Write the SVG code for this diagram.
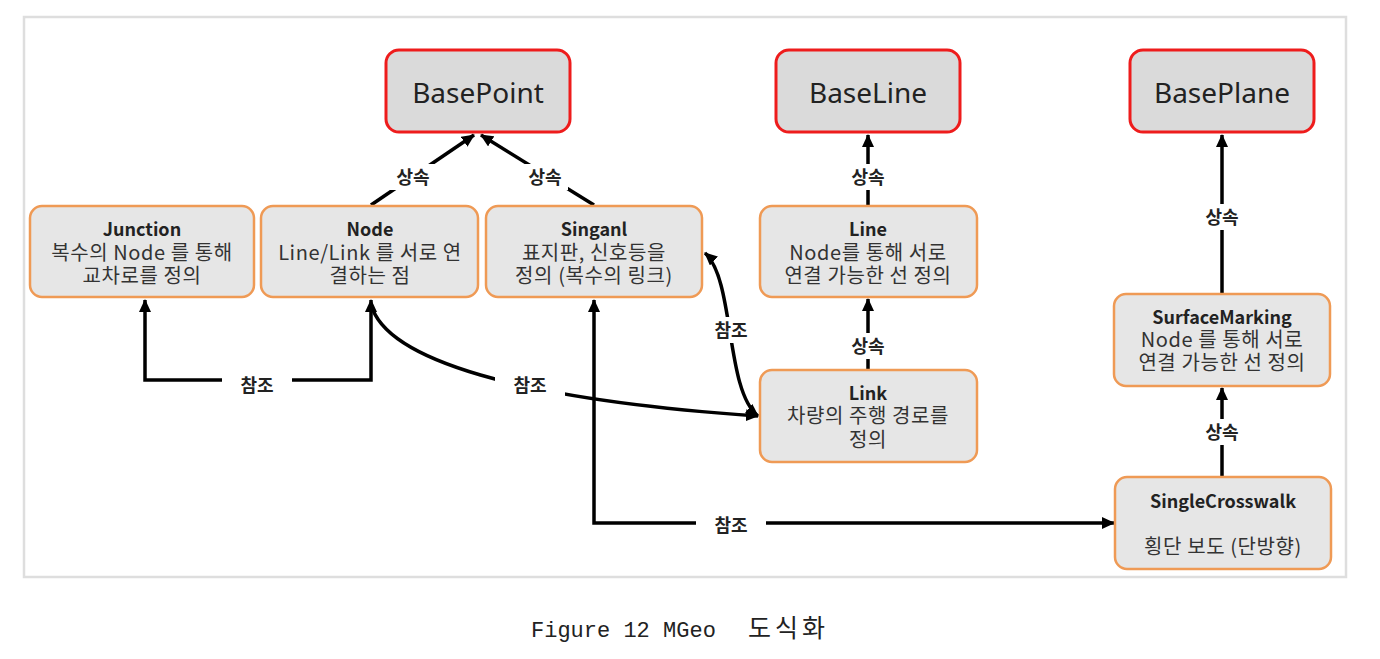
<svg xmlns="http://www.w3.org/2000/svg" width="1380" height="659" viewBox="0 0 1380 659">
<defs>
<style>
.base rect{fill:#dadada;stroke:#ee1c1c;stroke-width:3}
.sub rect{fill:#e6e6e6;stroke:#ef9a55;stroke-width:2.5}
.bt{font-family:"Noto Sans","Noto Sans CJK KR",sans-serif;font-size:28px;fill:#222;text-anchor:middle}
.tx{font-family:"Noto Sans CJK KR",sans-serif;font-size:20px;letter-spacing:0.6px;fill:#333;text-anchor:middle}
.tx .t{font-size:18px;font-weight:bold;letter-spacing:0;fill:#222}
.con{fill:none;stroke:#000;stroke-width:3.5}
.lb rect{fill:#fff}
.lb text{font-family:"Noto Sans CJK KR",sans-serif;font-size:18px;font-weight:bold;fill:#222;text-anchor:middle}
</style>
<marker id="ah" markerUnits="userSpaceOnUse" markerWidth="14" markerHeight="12" refX="12" refY="6" orient="auto-start-reverse" viewBox="0 0 14 12">
<path d="M0,0 L13,6 L0,12 z" fill="#000"/>
</marker>
</defs>
<rect x="0" y="0" width="1380" height="659" fill="#fff"/>
<rect x="24" y="17" width="1322" height="560" fill="#fff" stroke="#dedede" stroke-width="2.5"/>

<g id="connectors">
<line class="con" x1="371" y1="205" x2="474" y2="135" marker-end="url(#ah)"/>
<line class="con" x1="594" y1="205" x2="481" y2="135" marker-end="url(#ah)"/>
<line class="con" x1="868" y1="205" x2="868" y2="135" marker-end="url(#ah)"/>
<line class="con" x1="868" y1="369" x2="868" y2="299" marker-end="url(#ah)"/>
<line class="con" x1="1222" y1="293" x2="1222" y2="135" marker-end="url(#ah)"/>
<line class="con" x1="1222" y1="476" x2="1222" y2="388" marker-end="url(#ah)"/>
<path class="con" d="M145,300 V380 H371 V300" marker-start="url(#ah)" marker-end="url(#ah)"/>
<path class="con" d="M371,304 C385,360 520,400 758,416" marker-end="url(#ah)"/>
<path class="con" d="M705,253 C735,280 725,390 758,416" marker-start="url(#ah)" marker-end="url(#ah)"/>
<path class="con" d="M594,300 V523 H1114" marker-start="url(#ah)" marker-end="url(#ah)"/>
<g class="lb">
<rect x="390" y="164" width="46" height="26"/><text x="413" y="184">상속</text>
<rect x="522" y="164" width="46" height="26"/><text x="545" y="184">상속</text>
<rect x="845" y="164" width="46" height="26"/><text x="868" y="184">상속</text>
<rect x="845" y="333" width="46" height="26"/><text x="868" y="353">상속</text>
<rect x="1199" y="204" width="46" height="26"/><text x="1222" y="224">상속</text>
<rect x="1199" y="419" width="46" height="26"/><text x="1222" y="439">상속</text>
<rect x="222" y="372" width="70" height="26"/><text x="257" y="392">참조</text>
<rect x="495" y="372" width="70" height="26"/><text x="530" y="392">참조</text>
<rect x="708" y="317" width="46" height="26"/><text x="731" y="337">참조</text>
<rect x="696" y="512" width="70" height="26"/><text x="731" y="532">참조</text>
</g>
</g>

<g id="BasePoint" class="base"><rect x="386" y="50" width="184" height="82" rx="13"/><text class="bt" x="478" y="103">BasePoint</text></g>
<g id="BaseLine" class="base"><rect x="776" y="50" width="184" height="82" rx="13"/><text class="bt" x="868" y="103">BaseLine</text></g>
<g id="BasePlane" class="base"><rect x="1130" y="50" width="184" height="82" rx="13"/><text class="bt" x="1222" y="103">BasePlane</text></g>

<g id="Junction" class="sub"><rect x="30" y="206" width="224" height="91" rx="12"/>
<text class="tx" x="142" y="236"><tspan class="t">Junction</tspan><tspan x="142" dy="24">복수의 Node 를 통해</tspan><tspan x="142" dy="23">교차로를 정의</tspan></text></g>
<g id="Node" class="sub"><rect x="261" y="206" width="217" height="91" rx="12"/>
<text class="tx" x="370" y="236"><tspan class="t">Node</tspan><tspan x="370" dy="24">Line/Link 를 서로 연</tspan><tspan x="370" dy="23">결하는 점</tspan></text></g>
<g id="Singanl" class="sub"><rect x="486" y="206" width="216" height="91" rx="12"/>
<text class="tx" x="594" y="236"><tspan class="t">Singanl</tspan><tspan x="594" dy="24">표지판, 신호등을</tspan><tspan x="594" dy="23">정의 (복수의 링크)</tspan></text></g>
<g id="Line" class="sub"><rect x="760" y="206" width="217" height="91" rx="12"/>
<text class="tx" x="868" y="236"><tspan class="t">Line</tspan><tspan x="868" dy="24">Node를 통해 서로</tspan><tspan x="868" dy="23">연결 가능한 선 정의</tspan></text></g>
<g id="Link" class="sub"><rect x="760" y="370" width="217" height="92" rx="12"/>
<text class="tx" x="868" y="400"><tspan class="t">Link</tspan><tspan x="868" dy="23">차량의 주행 경로를</tspan><tspan x="868" dy="24">정의</tspan></text></g>
<g id="SurfaceMarking" class="sub"><rect x="1114" y="294" width="216" height="92" rx="12"/>
<text class="tx" x="1222" y="324"><tspan class="t">SurfaceMarking</tspan><tspan x="1222" dy="23">Node 를 통해 서로</tspan><tspan x="1222" dy="23">연결 가능한 선 정의</tspan></text></g>
<g id="SingleCrosswalk" class="sub"><rect x="1115" y="477" width="216" height="92" rx="12"/>
<text class="tx" x="1223" y="508"><tspan class="t">SingleCrosswalk</tspan><tspan x="1223" dy="46">횡단 보도 (단방향)</tspan></text></g>

<text x="531" y="637" font-family="'Liberation Mono','Noto Sans CJK KR',monospace" font-size="22" fill="#222">Figure 12 MGeo <tspan x="748" font-size="25" letter-spacing="4" font-family="'Noto Sans CJK KR',sans-serif">도식화</tspan></text>
</svg>
